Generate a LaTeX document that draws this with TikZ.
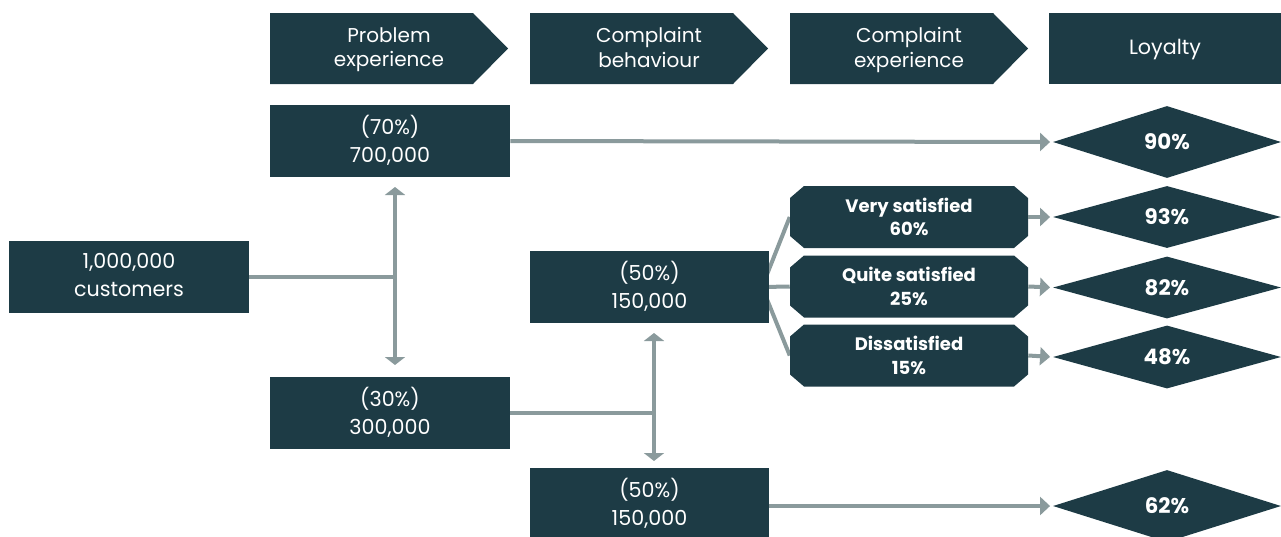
\documentclass[tikz,border=0pt]{standalone}
\usepackage{fontspec}
\setmainfont{Poppins}
\usetikzlibrary{arrows.meta,shapes.geometric,backgrounds}

\definecolor{boxteal}{HTML}{1D3B45}
\definecolor{linegrey}{HTML}{8A9A9C}

\begin{document}
\begin{tikzpicture}[x=0.75pt, y=-0.75pt,
    box/.style={fill=boxteal, text=white, inner sep=0pt, align=center,
        minimum width=180pt, minimum height=54pt, text depth=3pt,
        font=\fontsize{15.5}{20.5}\selectfont},
    headtext/.style={text=white, inner sep=0pt, align=center, text depth=3.5pt,
        font=\fontsize{15}{18.5}\selectfont},
    octtext/.style={text=white, inner sep=0pt, align=center,
        minimum width=178.5pt, minimum height=46.5pt,
        font=\bfseries\fontsize{13.5}{17.5}\selectfont},
    rate/.style={diamond, fill=boxteal, text=white, inner sep=0pt,
        minimum width=171pt, font=\bfseries\fontsize{16}{18}\selectfont},
    link/.style={draw=linegrey, line width=3pt},
    arr/.style={link, -{Triangle[length=7.5pt,width=13.5pt]}, shorten >=2pt},
    twoway/.style={link, {Triangle[length=6pt,width=15pt]}-{Triangle[length=6pt,width=15pt]}}
]
    \useasboundingbox (0,0) rectangle (1281,536);

    % header arrow: left x, name, text
    \def\header#1#2#3{%
        \fill[boxteal] (#1,13) -- ++(203,0) -- ++(35,35.5) -- ++(-35,35.5) -- ++(-203,0) -- cycle;
        \node[headtext] (#2) at (#1+119,49.5) {#3};
    }

    % octagon: centre y, name, text
    \def\octa#1#2#3{%
        \fill[boxteal] (804,#1-31) -- (1014,#1-31) -- (1028,#1-19) -- (1028,#1+19)
            -- (1014,#1+31) -- (804,#1+31) -- (790,#1+19) -- (790,#1-19) -- cycle;
        \node[octtext] (#2) at (909,#1) {#3};
    }

    % headers
    \header{270}{hprob}{Problem\\experience}
    \header{530}{hbeh}{Complaint\\behaviour}
    \header{790}{hexp}{Complaint\\experience}
    \node[box, minimum width=174pt, minimum height=53.25pt] (hloy) at (1165,48.5) {Loyalty};

    % boxes
    \node[box] (cust) at (129,277) {1,000,000\\customers};
    \node[box] (noprob) at (390,141) {(70\%)\\700,000};
    \node[box] (prob) at (390,413) {(30\%)\\300,000};
    \node[box, minimum width=179.25pt] (compl) at (649.5,287) {(50\%)\\150,000};
    \node[box, minimum width=179.25pt] (nocompl) at (649.5,504) {(50\%)\\150,000};

    % satisfaction
    \octa{217}{vsat}{Very satisfied\\60\%}
    \octa{286.5}{qsat}{Quite satisfied\\25\%}
    \octa{355.5}{dsat}{Dissatisfied\\15\%}

    % loyalty
    \node[rate, minimum height=54pt] (l90) at (1167,142) {90\%};
    \node[rate, minimum height=46.5pt] (l93) at (1167,217) {93\%};
    \node[rate, minimum height=46.5pt] (l82) at (1167,287.5) {82\%};
    \node[rate, minimum height=46.5pt] (l48) at (1167,357) {48\%};
    \node[rate, minimum height=54pt] (l62) at (1167,506) {62\%};

    % split points
    \coordinate (sp1) at (395,277);
    \coordinate (sp1a) at (395,187);
    \coordinate (sp1b) at (395,365);
    \coordinate (sp2) at (654,413);
    \coordinate (sp2a) at (654,333);
    \coordinate (sp2b) at (654,461);
    \coordinate (fan) at (762,287);

    \draw[link] (cust.east) -- (sp1);
    \draw[twoway] (sp1a) -- (sp1b);
    \draw[link] (prob.east) -- (sp2);
    \draw[twoway] (sp2a) -- (sp2b);

    \draw[arr] (noprob.east) -- (l90.west);
    \draw[arr] (nocompl.east |- l62) -- (l62.west);

    % fan behind the box
    \begin{pgfonlayer}{background}
        \draw[link] (fan) -- (vsat.west);
        \draw[link] (fan) -- (qsat.west);
        \draw[link] (fan) -- (dsat.west);
    \end{pgfonlayer}

    \draw[arr] (vsat.east) -- (l93.west);
    \draw[arr] (qsat.east) -- (l82.west);
    \draw[arr] (dsat.east) -- (l48.west);
\end{tikzpicture}
\end{document}
